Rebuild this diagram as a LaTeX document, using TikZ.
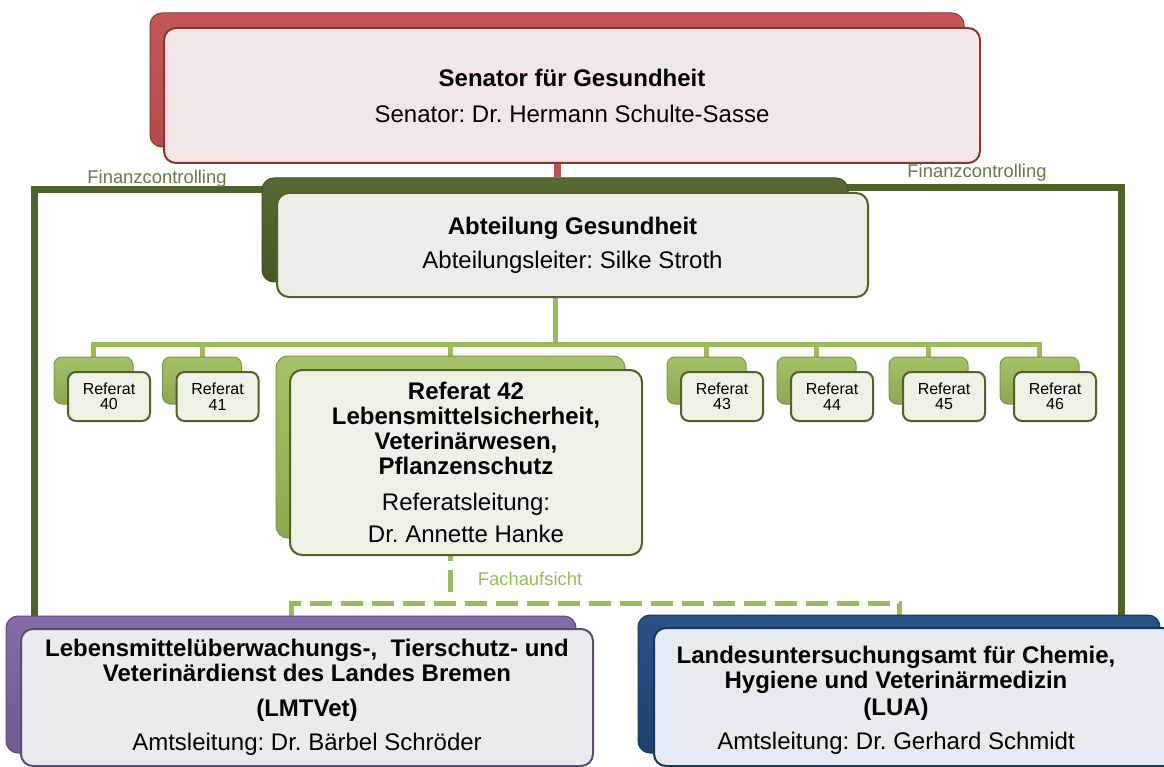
\documentclass[tikz,border=0pt]{standalone}
\usepackage{fontspec}
\setmainfont{Liberation Sans}
\usetikzlibrary{backgrounds}
\frenchspacing

\definecolor{senred}{HTML}{C0504D}
\definecolor{senreddark}{HTML}{8C3533}
\definecolor{senfront}{HTML}{F3E6E6}
\definecolor{abtgreen}{HTML}{4F6228}
\definecolor{abtfront}{HTML}{EBEDE6}
\definecolor{refgreen}{HTML}{9BBB59}
\definecolor{reffront}{HTML}{EEF2E6}
\definecolor{lmtpurple}{HTML}{8064A2}
\definecolor{lmtdark}{HTML}{5F497A}
\definecolor{lmtfront}{HTML}{ECE9F1}
\definecolor{luablue}{HTML}{1F497D}
\definecolor{luadark}{HTML}{17375E}
\definecolor{luafront}{HTML}{E7EAF0}

\begin{document}
\begin{tikzpicture}[x=1pt, y=-1pt,
    every node/.style={font=\fontsize{24}{25}\selectfont, align=center, inner sep=0pt},
    back/.style={rounded corners=12pt, line width=1pt},
    front/.style={rounded corners=12pt, line width=2pt},
    refback/.style={rounded corners=8pt, line width=1pt, draw=refgreen!80!black,
        top color=refgreen!90!white, bottom color=refgreen!90!black,
        minimum width=79pt, minimum height=47pt},
    reffront/.style={rounded corners=8pt, line width=2pt, draw=abtgreen, fill=reffront,
        minimum width=82pt, minimum height=49pt, font=\fontsize{16}{15.5}\selectfont},
    redline/.style={senred, line width=7pt},
    finline/.style={abtgreen, line width=7pt},
    busline/.style={refgreen, line width=5pt},
    fachline/.style={refgreen, line width=5pt, dash pattern=on 22pt off 9pt},
    finlabel/.style={font=\fontsize{18.4}{20}\selectfont, text=abtgreen!85!white},
    fachlabel/.style={font=\fontsize{18.4}{20}\selectfont, text=refgreen}]

\useasboundingbox (0,0) rectangle (1164,767);

% Senator
\node[back, draw=senreddark, top color=senred!95!white, bottom color=senred!95!black,
    minimum width=814pt, minimum height=134pt] (senback) at (557,80) {};
\node[front, draw=senreddark, fill=senfront, minimum width=816pt, minimum height=135pt] (sen) at (572,95.5)
    {\textbf{Senator für Gesundheit}\\[11pt] Senator: Dr. Hermann Schulte-Sasse};

% Abteilung
\node[back, draw=abtgreen!80!black, top color=abtgreen!95!white, bottom color=abtgreen!90!black,
    minimum width=586pt, minimum height=104pt] (abtback) at (555,230) {};
\node[front, draw=abtgreen, fill=abtfront, minimum width=591pt, minimum height=104pt] (abt) at (572.5,245)
    {\textbf{Abteilung Gesundheit}\\[9pt] Abteilungsleiter: Silke Stroth};

% Referate
\foreach \n/\x in {40/93.5, 41/202, 43/706.5, 44/816.5, 45/928.5, 46/1039.5} {
    \node[refback] (rb\n) at (\x,380.5) {};
    \node[reffront] (r\n) at (\x+15.5,396.5) {Referat\\\n};
}
\node[back, draw=refgreen!80!black, top color=refgreen!90!white, bottom color=refgreen!90!black,
    minimum width=349pt, minimum height=182pt] (rb42) at (450.5,447) {};
\node[front, draw=abtgreen, fill=reffront, minimum width=352pt, minimum height=185pt] (r42) at (466,462.5)
    {\textbf{Referat 42}\\ \textbf{Lebensmittelsicherheit,}\\ \textbf{Veterinärwesen,}\\
     \textbf{Pflanzenschutz}\\[11pt] Referatsleitung:\\[7pt] Dr. Annette Hanke};

% Aemter
\node[back, draw=lmtdark, top color=lmtpurple!95!white, bottom color=lmtpurple!90!black,
    minimum width=570pt, minimum height=137pt] (lmtback) at (291,684.5) {};
\node[front, draw=lmtdark, fill=lmtfront, minimum width=572pt, minimum height=137pt] (lmt) at (307,697.5)
    {\textbf{Lebensmittelüberwachungs-,\ \ Tierschutz- und}\\ \textbf{Veterinärdienst des Landes Bremen}\\[10pt]
     \textbf{(LMTVet)}\\[9pt] Amtsleitung: Dr. Bärbel Schröder};

\node[back, draw=luadark, top color=luablue!95!white, bottom color=luablue!90!black,
    minimum width=522pt, minimum height=138pt] (luaback) at (899,684) {};
\node[front, draw=luadark, fill=luafront, minimum width=524pt, minimum height=138pt] (lua) at (916,697) {};
\node (luatext) at (896,700)
    {\textbf{Landesuntersuchungsamt für Chemie,}\\ \textbf{Hygiene und Veterinärmedizin}\\[2pt]
     \textbf{(LUA)}\\[9pt] Amtsleitung: Dr. Gerhard Schmidt};

% Beschriftungen
\node[finlabel] (finllabel) at (157,179) {Finanzcontrolling};
\node[finlabel] (finrlabel) at (977,173) {Finanzcontrolling};
\node[fachlabel] (fachlabel) at (530,579) {Fachaufsicht};

\begin{pgfonlayer}{background}
\draw[redline] (senback.south) -- (senback.south |- abtback.north);

\coordinate (bus) at (555,344);
\draw[busline] (abtback.south) -- (bus);
\draw[busline] (rb40.north) -- (rb40.north |- bus) -- (rb46.north |- bus) -- (rb46.north);
\foreach \n in {41,42,43,44,45}
    \draw[busline] (rb\n.north) -- (rb\n.north |- bus);

\coordinate (finl) at (34,190);
\coordinate (finr) at (1121,188);
\draw[finline] (abtback.center |- finl) -- (finl) -- (finl |- lmtback.north);
\draw[finline] (abtback.center |- finr) -- (finr) -- (finr |- luaback.north);

\coordinate (fach) at (450,603);
\draw[fachline] (rb42.south) -- (rb42.south |- fach);
\draw[fachline] (lmtback.north) |- (fach) -| (luaback.north);
\end{pgfonlayer}
\end{tikzpicture}
\end{document}
